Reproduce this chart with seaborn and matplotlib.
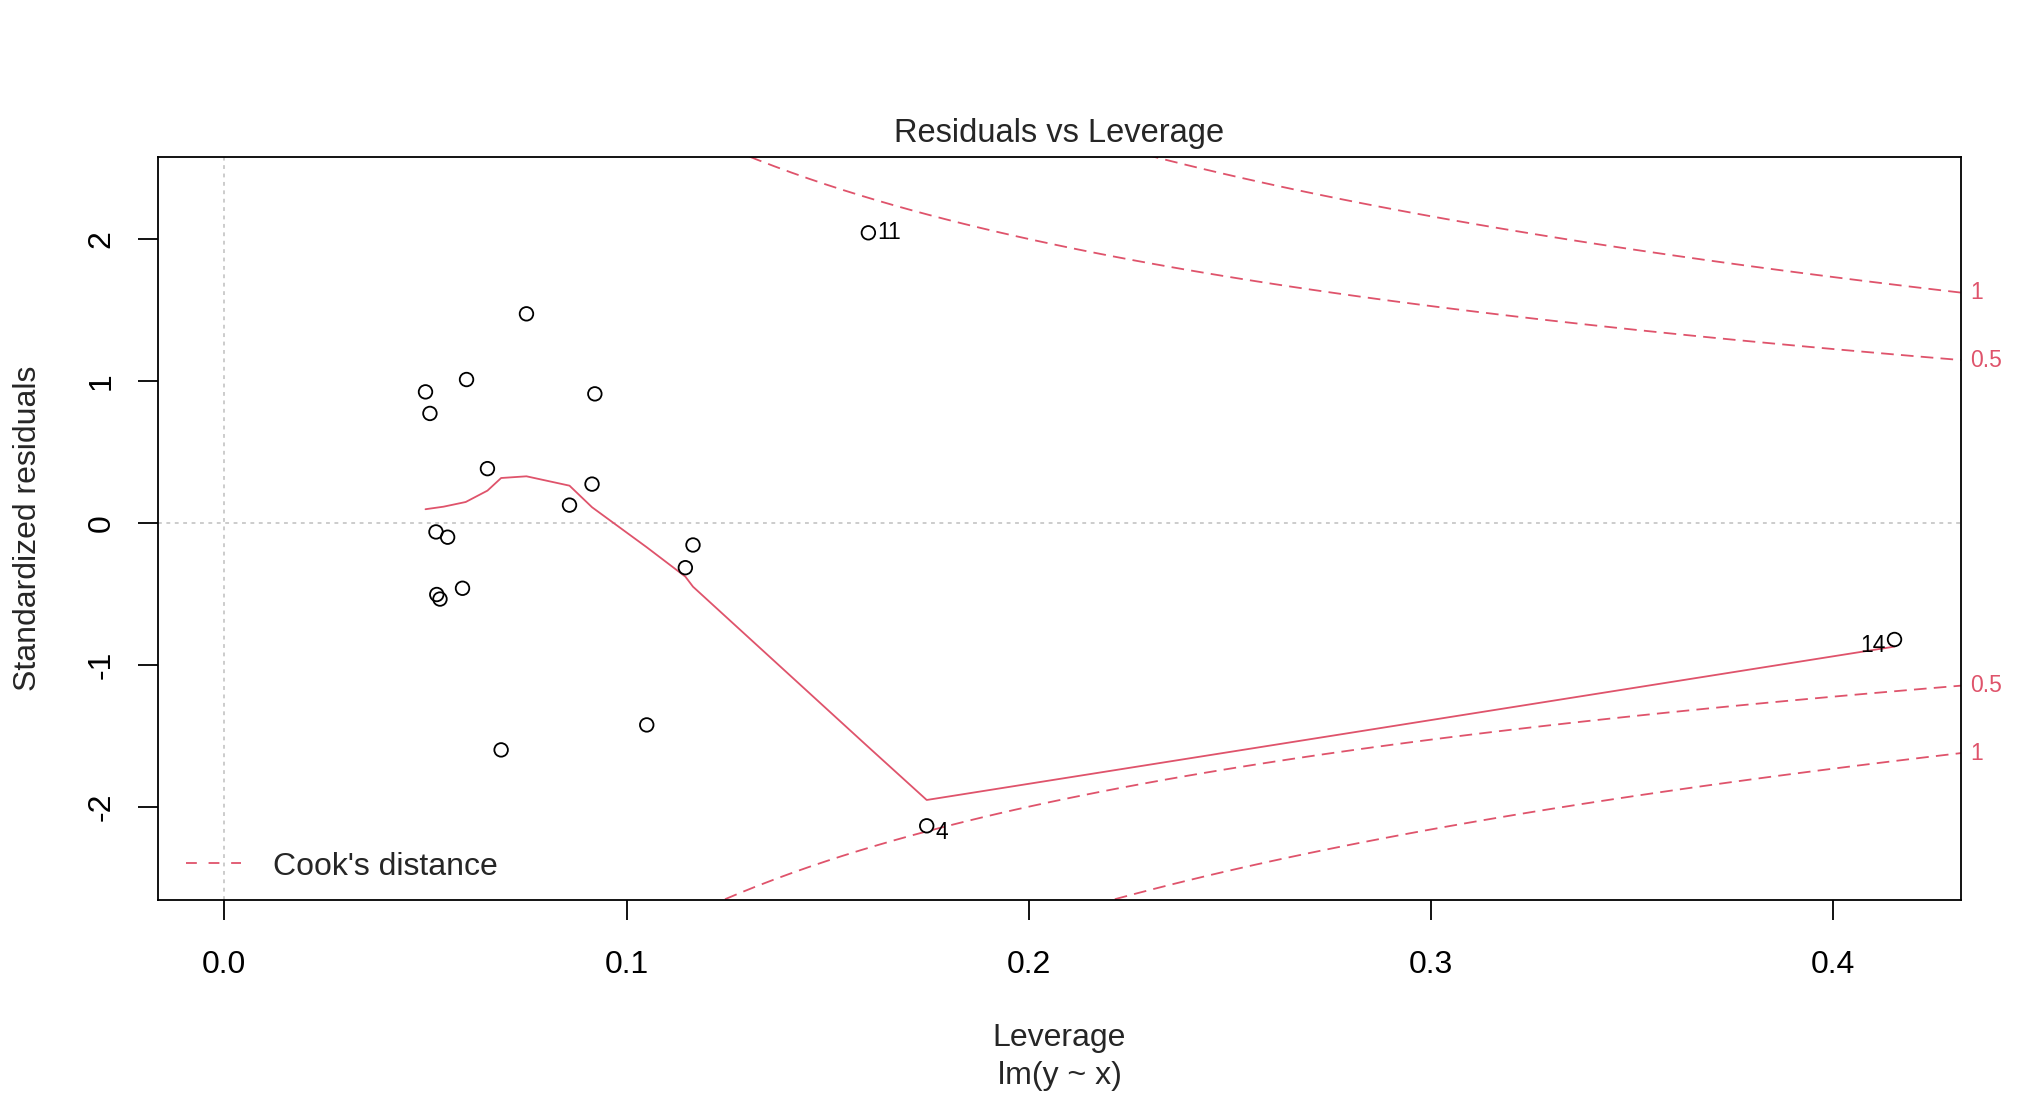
import numpy as np
import matplotlib
matplotlib.use("Agg")
import matplotlib.pyplot as plt
from matplotlib.lines import Line2D
import seaborn as sns

# hat values and standardized residuals
leverage = [0.0500, 0.0511, 0.0526, 0.0528, 0.0536, 0.0555, 0.0592, 0.0602, 0.0654, 0.0688,
            0.0751, 0.0858, 0.0914, 0.0921, 0.1050, 0.1146, 0.1165, 0.1601, 0.1746, 0.4152]
std_resid = [0.923, 0.771, -0.064, -0.505, -0.537, -0.101, -0.461, 1.010, 0.382, -1.600,
             1.473, 0.125, 0.273, 0.909, -1.424, -0.316, -0.156, 2.044, -2.135, -0.822]
# observation ids shown next to the most influential points
point_ids = [""] * 17 + ["11", "4", "14"]

# red smoother (lowess) vertices
smooth_lev = [0.0500, 0.0545, 0.0600, 0.0654, 0.0688, 0.0751, 0.0858, 0.0914, 0.1050,
              0.1146, 0.1165, 0.1601, 0.1746, 0.4152]
smooth_val = [0.096, 0.114, 0.147, 0.227, 0.316, 0.328, 0.262, 0.110, -0.172,
              -0.379, -0.450, -1.580, -1.953, -0.872]

# Cook's distance contours
cook_levels = [0.5, 1]
n_params = 2

x_ticks = [0.0, 0.1, 0.2, 0.3, 0.4]
x_tick_labels = ["0.0", "0.1", "0.2", "0.3", "0.4"]
y_ticks = [-2, -1, 0, 1, 2]
y_tick_labels = ["-2", "-1", "0", "1", "2"]

RED = "#DF536B"
GRAY = "#BEBEBE"
FS = 23

sns.set_theme(style="white")
plt.rcParams["font.family"] = ["Liberation Sans", "DejaVu Sans"]

W, H = 2042, 1096
fig = plt.figure(figsize=(W / 100, H / 100), dpi=100)
ax = fig.add_axes([157.6 / W, 1 - 899.6 / H, (1961.3 - 157.6) / W, (899.6 - 156.6) / H])

xlim = (-0.0166, 0.4318)
ylim = (-2.655, 2.581)

# reference lines
ax.axhline(0, color=GRAY, lw=1.1, ls=(0, (2.5, 3)), zorder=1)
ax.axvline(0, color=GRAY, lw=1.1, ls=(0, (2.5, 3)), zorder=1)

# cook's distance curves
hh = np.linspace(min(min(leverage), max(leverage) / 100), xlim[1], 101)
for lev in cook_levels:
    cl = np.sqrt(lev * n_params * (1 - hh) / hh)
    ax.plot(hh, cl, color=RED, lw=1.3, ls=(0, (7, 4)), zorder=2)
    ax.plot(hh, -cl, color=RED, lw=1.3, ls=(0, (7, 4)), zorder=2)
    yr = np.sqrt(lev * n_params * (1 - xlim[1]) / xlim[1])
    for yv in (yr, -yr):
        ax.annotate(f"{lev:g}", xy=(1, yv), xycoords=("axes fraction", "data"),
                    xytext=(6.5, 0), textcoords="offset points", ha="left", va="center",
                    color=RED, fontsize=16.5, annotation_clip=False)

# smoother
sns.lineplot(x=smooth_lev, y=smooth_val, sort=False, estimator=None,
             color=RED, lw=1.3, ax=ax, zorder=3)

# points
sns.scatterplot(x=leverage, y=std_resid, marker="o", s=95, facecolors="none",
                edgecolor="black", linewidth=1.3, ax=ax, zorder=4)
ax.collections[-1].set_facecolor("none")

# id labels: right of point on the left half, left of point on the right half
for xv, yv, pid in zip(leverage, std_resid, point_ids):
    if not pid:
        continue
    right = xv < sum(xlim) / 2
    dy = 0 if pid == "11" else -4.5
    ax.annotate(pid, xy=(xv, yv), xytext=(6.5 if right else -6.5, dy),
                textcoords="offset points", ha="left" if right else "right",
                va="center", fontsize=16.5, color="black")

ax.set_xlim(xlim)
ax.set_ylim(ylim)
ax.set_xticks(x_ticks)
ax.set_xticklabels(x_tick_labels)
ax.set_yticks(y_ticks)
ax.set_yticklabels(y_tick_labels, rotation=90, va="center")
ax.tick_params(axis="both", direction="out", length=14.4, width=1.3, color="black",
               labelsize=FS, labelcolor="black", bottom=True, left=True)
ax.tick_params(axis="x", pad=22)
ax.tick_params(axis="y", pad=15)
for sp in ax.spines.values():
    sp.set_color("black")
    sp.set_linewidth(1.3)
ax.set_xlabel("")
ax.set_ylabel("")

leg_handle = Line2D([], [], color=RED, lw=1.3, ls=(0, (6, 6.5)))
ax.legend(handles=[leg_handle], labels=["Cook's distance"], loc="lower left",
          bbox_to_anchor=(0.0084, 0.007), frameon=False, fontsize=FS,
          handlelength=1.75, handletextpad=1.0, borderaxespad=0, borderpad=0.4)

xc = (157.6 + 1961.3) / 2 / W
fig.text(xc, 1 - 141.7 / H, "Residuals vs Leverage", ha="center", va="baseline", fontsize=23.5)
fig.text(xc, 1 - 1046 / H, "Leverage", ha="center", va="baseline", fontsize=FS)
fig.text(xc, 1 - 1084 / H, "lm(y ~ x)", ha="center", va="baseline", fontsize=FS)
fig.text(36 / W, 1 - 528 / H, "Standardized residuals", rotation=90, rotation_mode="anchor",
         ha="center", va="baseline", fontsize=FS)

fig.savefig("out.png", dpi=100)
